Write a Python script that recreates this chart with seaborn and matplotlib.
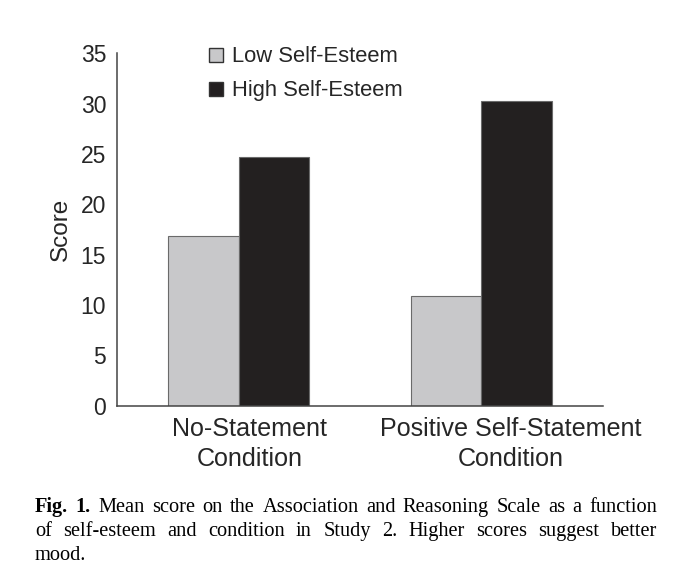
import matplotlib
matplotlib.use("Agg")
import matplotlib.pyplot as plt
import seaborn as sns
import pandas as pd
from matplotlib.lines import Line2D

conditions = ["No-Statement\nCondition", "Positive Self-Statement\nCondition"]
groups = ["Low Self-Esteem", "High Self-Esteem"]
low_values = [16.9, 10.9]
high_values = [24.7, 30.3]
colors = ["#c8c8ca", "#231f20"]
y_ticks = [0, 5, 10, 15, 20, 25, 30, 35]
caption_lines = [
    "Fig. 1. Mean score on the Association and Reasoning Scale as a function",
    "of self-esteem and condition in Study 2. Higher scores suggest better",
    "mood.",
]

df = pd.DataFrame({
    "Condition": conditions * 2,
    "Group": [groups[0]] * 2 + [groups[1]] * 2,
    "Score": low_values + high_values,
})

sns.set_style("white")
plt.rcParams["font.family"] = ["Liberation Sans", "DejaVu Sans"]

fig = plt.figure(figsize=(6.8, 5.84), dpi=100)
ax = fig.add_axes([0.1725, 0.3053, 0.7137, 0.6034])

sns.barplot(data=df, x="Condition", y="Score", hue="Group",
            order=conditions, hue_order=groups, palette=colors,
            width=0.58, edgecolor="#6a6a6a", linewidth=0.8, ax=ax, legend=False)

ax.set_xlim(-0.5, 1.5)
ax.set_ylim(0, 35)
ax.set_yticks(y_ticks)
ax.set_yticklabels([str(v) for v in y_ticks], fontsize=16.5)
ax.set_xticks([-0.5, 0.5, 1.5])
ax.set_xticklabels(["", "", ""])
# category labels sit slightly right of the bar groups in the original
ax.set_xticks([0.045, 1.12], minor=True)
ax.set_xticklabels(conditions, minor=True, fontsize=18.1, linespacing=1.32)
ax.tick_params(axis="x", which="minor", length=0, pad=8)
ax.tick_params(axis="x", which="major", direction="out", length=5, width=1.1, color="#444444")
ax.tick_params(axis="y", direction="out", length=5, width=1.1, color="#444444", pad=3)
ax.set_xlabel("")
ax.set_ylabel("Score", fontsize=17.5, labelpad=6)
for s in ["top", "right"]:
    ax.spines[s].set_visible(False)
for s in ["left", "bottom"]:
    ax.spines[s].set_color("#444444")
    ax.spines[s].set_linewidth(1.1)

handles = [Line2D([], [], marker="s", linestyle="", markersize=9.5,
                  markerfacecolor=c, markeredgecolor="#333333", markeredgewidth=1.0)
           for c in colors]
leg = ax.legend(handles, groups, loc="upper left", bbox_to_anchor=(0.168, 1.045),
                frameon=False, fontsize=15.8, handlelength=0.8, handletextpad=0.3,
                labelspacing=0.6, borderaxespad=0)

# caption, justified
renderer = fig.canvas.get_renderer()
x0, x1 = 35 / 680, 657 / 680
ys = [1 - 512 / 584, 1 - 536 / 584, 1 - 560 / 584]
for i, line in enumerate(caption_lines):
    words = line.split(" ")
    texts = []
    for j, w in enumerate(words):
        bold = (i == 0 and j < 2)
        t = fig.text(0, ys[i], w, fontsize=14.7, va="baseline", ha="left",
                     family=["Liberation Serif", "DejaVu Serif"],
                     fontweight="bold" if bold else "normal", color="#000000")
        texts.append(t)
    widths = [t.get_window_extent(renderer).width / fig.bbox.width for t in texts]
    if i < len(caption_lines) - 1 and len(words) > 1:
        gap = (x1 - x0 - sum(widths)) / (len(words) - 1)
    else:
        gap = 0.006
    x = x0
    for t, wd in zip(texts, widths):
        t.set_x(x)
        x += wd + gap

fig.savefig("out.png", dpi=100)
